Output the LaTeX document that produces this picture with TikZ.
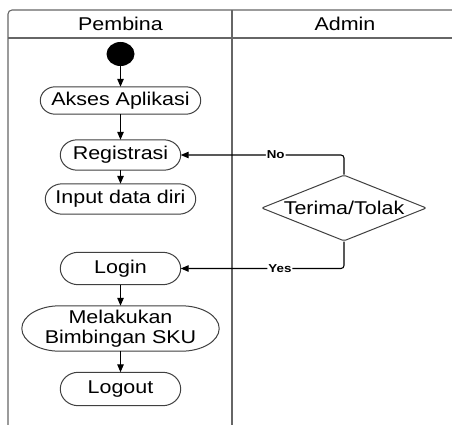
\documentclass[tikz,border=0pt]{standalone}
\usepackage{fontspec}
\setmainfont{Liberation Sans}[FakeStretch=1.16]
\usetikzlibrary{arrows.meta,shapes.geometric,calc}

\newcommand\stadline[2]{%
  \draw[nodeline] let \p1=(#1.north west), \p2=(#1.south east), \n1={(\y1-\y2)/2} in
    (\x1+#2pt,\y1) -- (\x2-#2pt,\y1)
    arc[start angle=90,end angle=-90,x radius=#2pt,y radius=\n1]
    -- (\x1+#2pt,\y2)
    arc[start angle=270,end angle=90,x radius=#2pt,y radius=\n1] -- cycle;}

\begin{document}
\begin{tikzpicture}[x=1pt,y=1pt,
  frame/.style={draw=black!60, line width=1.1pt},
  nodeline/.style={draw=black!75, line width=1pt},
  act/.style={rectangle, inner sep=0pt, font=\fontsize{18.5}{20}\selectfont, align=center},
  hdr/.style={font=\fontsize{18.5}{20}\selectfont},
  arr/.style={draw=black, line width=1.1pt, -{Triangle[length=8pt,width=6.5pt]}},
  lbl/.style={fill=white, inner sep=1pt, font=\fontsize{11.5}{13}\selectfont\bfseries},
  decision/.style={diamond, draw=black!75, line width=1pt, aspect=2.5, inner sep=0pt,
    minimum width=165pt, minimum height=66pt, font=\fontsize{18.5}{20}\selectfont, rounded corners=2pt},
  startdot/.style={ellipse, fill=black, inner sep=0pt, minimum width=28pt, minimum height=24pt}]
\useasboundingbox (0,0) rectangle (452,424);
\fill[white] (0,0) rectangle (452,424);

% swimlane frame
\draw[frame, rounded corners=4pt] (8,-4) -- (8,414) -- (460,414);
\draw[frame] (8,386) -- (460,386);
\draw[frame] (232,-4) -- (232,414);
\node[hdr] (hp) at (120.5,400) {Pembina};
\node[hdr] (ha) at (345,400) {Admin};

% nodes
\node[startdot] (start) at (120.5,370) {};
\node[act, minimum width=160pt, minimum height=27pt] (akses) at (120.5,323.5) {Akses Aplikasi};
\node[act, minimum width=120pt, minimum height=30pt] (reg) at (120.5,269) {Registrasi};
\node[act, minimum width=150pt, minimum height=30pt] (inp) at (120.5,225) {Input data diri};
\node[act, minimum width=120pt, minimum height=32pt] (login) at (120.5,155.5) {Login};
\node[act, minimum width=197pt, minimum height=45pt] (bimb) at (120.5,95.5) {Melakukan\\Bimbingan SKU};
\node[act, minimum width=120pt, minimum height=33pt] (logout) at (120.5,35) {Logout};
\node[decision] (dec) at (344,216) {Terima/Tolak};

\stadline{akses}{15}
\stadline{reg}{17}
\stadline{inp}{17}
\stadline{login}{18}
\stadline{bimb}{38}
\stadline{logout}{18}

% connectors
\draw[arr] (start) -- (akses);
\draw[arr] (akses) -- (reg);
\draw[arr] (reg) -- (inp);
\draw[arr] (login) -- (bimb);
\draw[arr] (bimb) -- (logout);
\draw[arr, rounded corners=3pt] (dec.north) |- node[lbl, pos=0.709] {No} (reg.east);
\draw[arr, rounded corners=3pt] (dec.south) |- node[lbl, pos=0.696] {Yes} (login.east);
\end{tikzpicture}
\end{document}
